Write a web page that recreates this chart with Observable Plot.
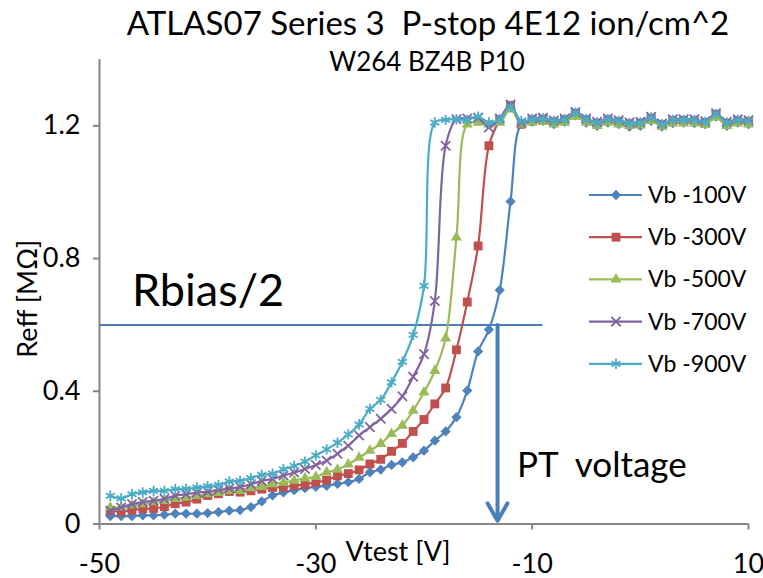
<!DOCTYPE html>
<html><head><meta charset="utf-8">
<script src="https://cdn.jsdelivr.net/npm/d3@7"></script>
<script src="https://cdn.jsdelivr.net/npm/@observablehq/plot@0.6"></script>
<style>
html,body{margin:0;padding:0;background:#fff;}
#chart{position:relative;width:763px;height:578px;}
</style></head><body><div id="chart"></div>
<script>
// ---- data ----
const vtest = [-49,-48,-47,-46,-45,-44,-43,-42,-41,-40,-39,-38,-37,-36,-35,-34,-33,-32,-31,-30,
  -29,-28,-27,-26,-25,-24,-23,-22,-21,-20,-19,-18,-17,-16,-15,-14,-13,-12,-11,-10,
  -9,-8,-7,-6,-5,-4,-3,-2,-1,0,1,2,3,4,5,6,7,8,9,10];
const vb100 = [0.024,0.024,0.024,0.026,0.026,0.028,0.031,0.031,0.031,0.033,0.036,0.040,0.042,0.051,0.068,0.086,0.095,0.102,0.108,0.112,
  0.115,0.121,0.126,0.136,0.156,0.164,0.178,0.186,0.201,0.221,0.251,0.279,0.322,0.402,0.520,0.586,0.705,0.972,1.205,1.212,
  1.215,1.205,1.212,1.232,1.210,1.200,1.210,1.205,1.198,1.200,1.215,1.198,1.208,1.210,1.208,1.205,1.228,1.200,1.210,1.205];
const vb300 = [0.040,0.038,0.042,0.046,0.047,0.052,0.061,0.066,0.075,0.086,0.091,0.098,0.096,0.100,0.105,0.110,0.111,0.116,0.119,0.126,
  0.132,0.145,0.152,0.163,0.181,0.195,0.219,0.243,0.279,0.315,0.362,0.410,0.525,0.669,0.838,1.140,1.218,1.262,1.205,1.218,
  1.220,1.212,1.218,1.238,1.218,1.208,1.218,1.212,1.206,1.208,1.222,1.203,1.215,1.216,1.215,1.210,1.234,1.208,1.215,1.212];
const vb500 = [0.050,0.050,0.056,0.060,0.066,0.070,0.076,0.080,0.085,0.090,0.094,0.100,0.100,0.108,0.112,0.120,0.125,0.131,0.138,0.142,
  0.156,0.164,0.180,0.200,0.221,0.242,0.272,0.297,0.342,0.397,0.462,0.560,0.864,1.205,1.210,1.205,1.210,1.250,1.205,1.210,
  1.212,1.205,1.210,1.228,1.210,1.200,1.210,1.205,1.200,1.202,1.215,1.198,1.208,1.208,1.208,1.203,1.226,1.200,1.208,1.205];
const vb700 = [0.040,0.050,0.060,0.066,0.070,0.076,0.085,0.090,0.095,0.097,0.103,0.107,0.112,0.120,0.130,0.136,0.146,0.155,0.166,0.178,
  0.191,0.212,0.236,0.267,0.292,0.317,0.347,0.385,0.444,0.512,0.672,1.140,1.220,1.222,1.225,1.195,1.222,1.264,1.210,1.222,
  1.224,1.216,1.222,1.242,1.222,1.212,1.222,1.217,1.210,1.212,1.227,1.207,1.220,1.220,1.220,1.214,1.238,1.212,1.220,1.217];
const vb900 = [0.085,0.077,0.090,0.095,0.100,0.100,0.105,0.106,0.110,0.114,0.118,0.128,0.130,0.138,0.148,0.152,0.165,0.175,0.188,0.207,
  0.225,0.245,0.270,0.300,0.347,0.374,0.427,0.489,0.570,0.718,1.210,1.218,1.220,1.218,1.228,1.210,1.220,1.258,1.215,1.220,
  1.222,1.215,1.220,1.240,1.220,1.210,1.220,1.215,1.208,1.210,1.225,1.205,1.218,1.218,1.218,1.212,1.236,1.210,1.218,1.215];
const seriesNames = ["Vb -100V","Vb -300V","Vb -500V","Vb -700V","Vb -900V"];
const seriesValues = [vb100, vb300, vb500, vb700, vb900];
const xTicks = [-50,-30,-10,10];
const yTicks = [0,0.4,0.8,1.2];
const rbiasLevel = 0.6;          // Rbias/2 line level
const rbiasLineEnd = -9;         // line runs from axis to here
const ptVoltage = -13.2;         // PT voltage arrow
const titleText = "ATLAS07 Series 3  P-stop 4E12 ion/cm^2";
const subtitleText = "W264 BZ4B P10";

// ---- styles ----
const colors = ["#4F81BD","#C0504D","#9BBB59","#8064A2","#4BACC6"];
const FONT = "Lato, 'Open Sans', sans-serif";
const AXIS = "#868686";
const ANNOT = "#4A7EBB";

const markerOpts = [
  {symbol:"square", rotate:45, r:4.1, fill:colors[0], stroke:null},
  {symbol:"square", r:5.0, fill:colors[1], stroke:null},
  {symbol:"triangle", r:4.1, fill:colors[2], stroke:null},
  {symbol:"times", r:4.3, stroke:colors[3], strokeWidth:1.8, fill:null},
  {symbol:"asterisk", r:4.9, stroke:colors[4], strokeWidth:1.8, fill:null}
];

const marks = [
  Plot.ruleY([0], {stroke:AXIS, strokeWidth:2}),
  Plot.ruleX([-50], {stroke:AXIS, strokeWidth:2}),
  Plot.axisX({ticks:xTicks, tickSize:6, tickPadding:24, stroke:AXIS, strokeWidth:2, fill:"black", fontSize:27, label:null, tickFormat:d=>String(d)}),
  Plot.axisY({ticks:yTicks, tickSize:6, tickPadding:13, stroke:AXIS, strokeWidth:2, fill:"black", fontSize:27, label:null, tickFormat:d=>String(d)}),
  Plot.ruleY([rbiasLevel], {x1:-50, x2:rbiasLineEnd, stroke:ANNOT, strokeWidth:2})
];
seriesValues.forEach((vals, i) => {
  const rows = vtest.map((v, j) => ({v, r: vals[j]}));
  marks.push(Plot.line(rows, {x:"v", y:"r", stroke:colors[i], strokeWidth:2.2, curve:"catmull-rom"}));
  marks.push(Plot.dot(rows, {x:"v", y:"r", ...markerOpts[i]}));
});
marks.push(
  Plot.arrow([{x:ptVoltage}], {x1:"x", x2:"x", y1:rbiasLevel, y2:0.01, stroke:ANNOT, strokeWidth:4, headLength:7.5, headAngle:60}),
  Plot.text(["Rbias/2"], {x:-47, y:0.7, textAnchor:"start", lineAnchor:"middle", fontSize:45, fill:"black"}),
  Plot.text(["PT  voltage"], {x:-11.4, y:0.176, textAnchor:"start", lineAnchor:"middle", fontSize:35, fill:"black"}),
  Plot.text([titleText], {frameAnchor:"top", dx:4, dy:-35, textAnchor:"middle", lineAnchor:"middle", fontSize:33, fill:"black"}),
  Plot.text([subtitleText], {frameAnchor:"top", dx:3, dy:3, textAnchor:"middle", lineAnchor:"middle", fontSize:26, fill:"black"}),
  Plot.text(["Vtest [V]"], {frameAnchor:"bottom", dx:-26, dy:28, textAnchor:"middle", lineAnchor:"middle", fontSize:27, fill:"black"}),
  Plot.text(["Reff [MΩ]"], {frameAnchor:"left", dx:-71, dy:7, rotate:-90, textAnchor:"middle", lineAnchor:"middle", fontSize:27, fill:"black"})
);

const chart = Plot.plot({
  width:763, height:578,
  marginLeft:99, marginRight:15, marginTop:59, marginBottom:54.5,
  x:{domain:[-50,10]},
  y:{domain:[0,1.4]},
  style:{fontFamily:FONT, background:"white", color:"black", overflow:"visible"},
  marks
});
document.getElementById("chart").appendChild(chart);

// ---- legend ----
const svg = d3.select(chart);
const lg = svg.append("g").attr("font-family", FONT).attr("font-size", 23).attr("text-anchor","start");
const symMap = [d3.symbolSquare, d3.symbolSquare, d3.symbolTriangle, d3.symbolTimes, d3.symbolAsterisk];
seriesNames.forEach((name, i) => {
  const y = 195 + i * 42.2;
  const g = lg.append("g").attr("transform", `translate(0,${y})`);
  g.append("line").attr("x1",589).attr("x2",642).attr("y1",0).attr("y2",0).attr("stroke",colors[i]).attr("stroke-width",2.2);
  const m = markerOpts[i];
  const size = Math.PI * m.r * m.r;
  const p = g.append("path").attr("d", d3.symbol(symMap[i], size)())
    .attr("transform", `translate(616,0)` + (m.rotate ? ` rotate(${m.rotate})` : ""));
  if (m.fill) p.attr("fill", m.fill); else p.attr("fill","none");
  if (m.stroke) p.attr("stroke", m.stroke).attr("stroke-width", m.strokeWidth);
  g.append("text").attr("x",648).attr("y",0).attr("dy","0.35em").attr("text-anchor","start").text(name);
});
</script></body></html>
